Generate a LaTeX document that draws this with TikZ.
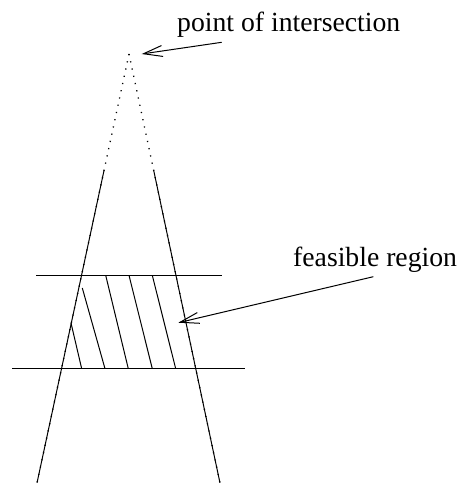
\documentclass[tikz,border=0pt]{standalone}
\usepackage{fontspec}
\setmainfont{Liberation Serif}
\usetikzlibrary{arrows.meta,calc}
\begin{document}
\begin{tikzpicture}[x=1pt,y=-1pt,
  edge/.style={line width=1pt},
  dotline/.style={line width=1.3pt, dash pattern=on 1.2pt off 6.2pt},
  txt/.style={inner sep=0pt, anchor=base west, font=\fontsize{27.7}{30}\selectfont},
  pointer/.style={line width=1pt, -{Straight Barb[length=19pt,width=11pt,line width=1pt]}}]
\useasboundingbox (0,0) rectangle (459,483);
% cone lines
\coordinate (A) at (129,54);
\coordinate (BL) at (37,483);
\coordinate (BR) at (220,483);
\coordinate (LT) at ($(A)!0.27!(BL)$);
\coordinate (RT) at ($(A)!0.27!(BR)$);
\draw[dotline] (A) -- (BL);
\draw[dotline] (A) -- (BR);
\draw[edge] (LT) -- (BL);
\draw[edge] (RT) -- (BR);
% horizontal constraints
\coordinate (H1a) at (36,275.3);
\coordinate (H1b) at (222,275.3);
\coordinate (H2a) at (12,368.7);
\coordinate (H2b) at (245,368.7);
\draw[edge] (H1a) -- (H1b);
\draw[edge] (H2a) -- (H2b);
% hatching
\coordinate (s1a) at (71,323);    \coordinate (s1b) at (81.7,368.7);
\coordinate (s2a) at (82.3,288);  \coordinate (s2b) at (105,368.7);
\coordinate (s3a) at (105.7,275.3); \coordinate (s3b) at (128.3,368.7);
\coordinate (s4a) at (129,275.3); \coordinate (s4b) at (152.3,368.7);
\coordinate (s5a) at (152.3,275.3); \coordinate (s5b) at (175.7,368.7);
\foreach \i in {1,...,5} {\draw[edge] (s\i a) -- (s\i b);}
% labels
\node[txt] (pt) at (177,31) {point of intersection};
\node[txt] (fr) at (293,266.7) {feasible region};
\coordinate (P1s) at (221.7,42.3);
\coordinate (P1t) at (141.7,54);
\coordinate (F1s) at (373.3,276.7);
\coordinate (F1t) at (178.3,322.7);
\draw[pointer] (P1s) -- (P1t);
\draw[pointer] (F1s) -- (F1t);
\end{tikzpicture}
\end{document}
